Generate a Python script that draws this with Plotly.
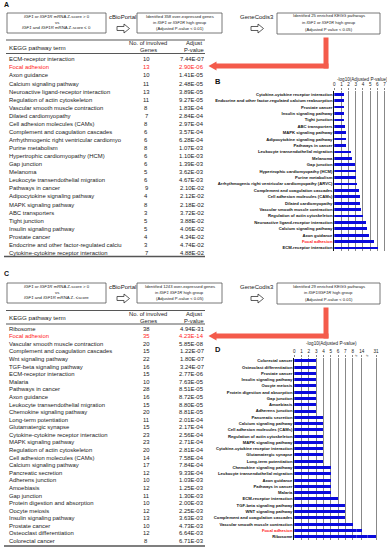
import plotly.graph_objects as go

W, H = 387, 550
FONT = "Liberation Sans, Arial, sans-serif"
TXT = "#222222"
RED_TXT = "#ff1a1a"
ARROW_RED = "#f45b4b"
BLUE = "#0a0adc"

# ---------------- data: panel A table ----------------
a_terms = ["ECM-receptor interaction", "Focal adhesion", "Axon guidance", "Calcium signaling pathway",
           "Neuroactive ligand-receptor interaction", "Regulation of actin cytoskeleton",
           "Vascular smooth muscle contraction", "Dilated cardiomyopathy", "Cell adhesion molecules (CAMs)",
           "Complement and coagulation cascades", "Arrhythmogenic right ventricular cardiomyo",
           "Purine metabolism", "Hypertrophic cardiomyopathy (HCM)", "Gap junction", "Melanoma",
           "Leukocyte transendothelial migration", "Pathways in cancer", "Adipocytokine signaling pathway",
           "MAPK signaling pathway", "ABC transporters", "Tight junction", "Insulin signaling pathway",
           "Prostate cancer", "Endocrine and other factor-regulated calciu",
           "Cytokine-cytokine receptor interaction"]
a_genes = [10, 13, 10, 11, 13, 11, 8, 7, 8, 6, 6, 8, 6, 6, 5, 6, 9, 4, 8, 3, 5, 5, 4, 3, 7]
a_pvals = ["7.44E-07", "2.90E-06", "1.41E-05", "2.48E-05", "3.89E-05", "9.27E-05", "1.83E-04",
           "2.84E-04", "2.97E-04", "3.57E-04", "6.28E-04", "1.07E-03", "1.10E-03", "1.39E-03",
           "3.62E-03", "4.67E-03", "2.10E-02", "2.12E-02", "2.18E-02", "3.72E-02", "3.88E-02",
           "4.06E-02", "4.34E-02", "4.74E-02", "4.88E-02"]

# ---------------- data: panel B chart (bottom to top) ----------------
b_terms = ["ECM-receptor interaction", "Focal adhesion", "Axon guidance", "Calcium signaling pathway",
           "Neuroactive ligand-receptor interaction", "Regulation of actin cytoskeleton",
           "Vascular smooth muscle contraction", "Dilated cardiomyopathy", "Cell adhesion molecules (CAMs)",
           "Complement and coagulation cascades",
           "Arrhythmogenic right ventricular cardiomyopathy (ARVC)", "Purine metabolism",
           "Hypertrophic cardiomyopathy (HCM)", "Gap junction", "Melanoma",
           "Leukocyte transendothelial migration", "Pathways in cancer", "Adipocytokine signaling pathway",
           "MAPK signaling pathway", "ABC transporters", "Tight junction", "Insulin signaling pathway",
           "Prostate cancer", "Endocrine and other factor-regulated calcium reabsorption",
           "Cytokine-cytokine receptor interaction"]
b_values = [6.13, 5.54, 4.85, 4.61, 4.41, 4.03, 3.74, 3.55, 3.53, 3.45, 3.20, 2.97, 2.96, 2.86,
            2.44, 2.33, 1.68, 1.67, 1.66, 1.43, 1.41, 1.39, 1.36, 1.32, 1.31]
b_ticks = [0, 1, 2, 3, 4, 5, 6, 7]

# ---------------- data: panel C table ----------------
c_terms = ["Ribosome", "Focal adhesion", "Vascular smooth muscle contraction",
           "Complement and coagulation cascades", "Wnt signaling pathway", "TGF-beta signaling pathway",
           "ECM-receptor interaction", "Malaria", "Pathways in cancer", "Axon guidance",
           "Leukocyte transendothelial migration", "Chemokine signaling pathway", "Long-term potentiation",
           "Glutamatergic synapse", "Cytokine-cytokine receptor interaction", "MAPK signaling pathway",
           "Regulation of actin cytoskeleton", "Cell adhesion molecules (CAMs)", "Calcium signaling pathway",
           "Pancreatic secretion", "Adherens junction", "Amoebiasis", "Gap junction",
           "Protein digestion and absorption", "Oocyte meiosis", "Insulin signaling pathway",
           "Prostate cancer", "Osteoclast differentiation", "Colorectal cancer"]
c_genes = [38, 35, 20, 15, 22, 16, 15, 10, 28, 16, 15, 20, 11, 15, 23, 23, 20, 14, 17, 12, 10, 12,
           11, 10, 12, 13, 10, 12, 8]
c_pvals = ["4.94E-31", "4.23E-14", "5.85E-08", "1.22E-07", "1.80E-07", "3.24E-07", "2.77E-06",
           "7.63E-05", "8.51E-05", "8.72E-05", "8.80E-05", "8.81E-05", "2.01E-04", "2.17E-04",
           "2.56E-04", "2.71E-04", "2.81E-04", "7.58E-04", "7.84E-04", "9.33E-04", "1.03E-03",
           "1.25E-03", "1.30E-03", "2.00E-03", "2.25E-03", "3.63E-03", "4.73E-03", "6.64E-03",
           "6.71E-03"]

# ---------------- data: panel D chart (bottom to top) ----------------
d_terms = ["Ribosome", "Focal adhesion", "Vascular smooth muscle contraction",
           "Complement and coagulation cascades", "WNT signaling pathway", "TGF-beta signaling pathway",
           "ECM-receptor interaction", "Malaria", "Pathways in cancer", "Axon guidance",
           "Leukocyte transendothelial migration", "Chemokine signaling pathway", "Long-term potentiation",
           "Glutamatergic synapse", "Cytokine-cytokine receptor interaction", "MAPK signaling pathway",
           "Regulation of actin cytoskeleton", "Cell adhesion molecules (CAMs)", "Calcium signaling pathway",
           "Pancreatic secretion", "Adherens junction", "Amoebiasis", "Gap junction",
           "Protein digestion and absorption", "Oocyte meiosis", "Insulin signaling pathway",
           "Prostate cancer", "Osteoclast differentiation", "Colorectal cancer"]
d_values = [31, 14, 8, 7, 7, 7, 6, 5, 5, 5, 5, 5, 4, 4, 4, 4, 4, 4, 4, 4, 3, 3, 3, 3, 3, 3, 3, 3, 3]
d_ticks_low = [0, 1, 2, 3, 4, 5, 6, 7, 8]
d_ticks_mid = [14]
d_ticks_high = [31]

HIGHLIGHT = "Focal adhesion"

# ---------------- helpers ----------------
def X(px):
    return px / W


def Y(py):
    return 1 - py / H


annotations = []
shapes = []


def txt(px, py, s, size, color=TXT, xanchor="left", yanchor="middle"):
    annotations.append(dict(x=X(px), y=Y(py), xref="paper", yref="paper", text=s, showarrow=False,
                            xanchor=xanchor, yanchor=yanchor, borderpad=0,
                            font=dict(size=size, color=color, family=FONT)))


def hline(x0, x1, y, width=0.8, color="#444444"):
    shapes.append(dict(type="line", xref="paper", yref="paper", x0=X(x0), x1=X(x1), y0=Y(y), y1=Y(y),
                       line=dict(color=color, width=width)))


def box(x0, y0, x1, y1):
    shapes.append(dict(type="rect", xref="paper", yref="paper", x0=X(x0), x1=X(x1), y0=Y(y1), y1=Y(y0),
                       line=dict(color="#555555", width=0.8), fillcolor="white"))


def hollow_arrow(x0, yc):
    pts = [(x0, yc - 2), (x0 + 7, yc - 2), (x0 + 7, yc - 4.5), (x0 + 12.5, yc), (x0 + 7, yc + 4.5),
           (x0 + 7, yc + 2), (x0, yc + 2)]
    path = "M " + " L ".join(f"{X(a):.5f},{Y(b):.5f}" for a, b in pts) + " Z"
    shapes.append(dict(type="path", xref="paper", yref="paper", path=path,
                       line=dict(color="#333333", width=0.8), fillcolor="white"))


def red_arrow(xv0, xv1, ytop, yh0, yh1, xtip):
    shapes.append(dict(type="rect", xref="paper", yref="paper", x0=X(xv0), x1=X(xv1), y0=Y(yh1), y1=Y(ytop),
                       line=dict(width=0), fillcolor=ARROW_RED))
    shapes.append(dict(type="rect", xref="paper", yref="paper", x0=X(xtip + 7), x1=X(xv1), y0=Y(yh1), y1=Y(yh0),
                       line=dict(width=0), fillcolor=ARROW_RED))
    yc = (yh0 + yh1) / 2
    pts = [(xtip, yc), (xtip + 8, yc - 4.5), (xtip + 8, yc + 4.5)]
    path = "M " + " L ".join(f"{X(a):.5f},{Y(b):.5f}" for a, b in pts) + " Z"
    shapes.append(dict(type="path", xref="paper", yref="paper", path=path, line=dict(width=0),
                       fillcolor=ARROW_RED))


def flow(y_off, box1, box2, box3):
    box(7, 13 + y_off, 106, 33 + y_off)
    box(137, 13 + y_off, 222, 33 + y_off)
    box(277, 13 + y_off, 380, 34 + y_off)
    for i, line in enumerate(box1):
        txt(56.5, 16.5 + y_off + 5.6 * i, line, 4.3, xanchor="center")
    for i, line in enumerate(box2):
        txt(179.5, 16.5 + y_off + 6.2 * i, line, 4.2, xanchor="center")
    for i, line in enumerate(box3):
        txt(328.5, 16 + y_off + 6.6 * i, line, 4.2, xanchor="center")
    txt(122, 17 + y_off, "cBioPortal", 6, xanchor="center")
    txt(256.5, 17 + y_off, "GeneCodis3", 6, xanchor="center")
    hollow_arrow(117, 28.5 + y_off)
    hollow_arrow(251, 28.5 + y_off)


def table(y_top, y0, step, terms, genes, pvals, y_bottom):
    hline(6, 205, y_top, 0.9)
    txt(8, y_top + 7, "KEGG pathway term", 6.2)
    txt(148, y_top + 3.3, "No. of involved", 5.8, xanchor="center")
    txt(148, y_top + 10, "Genes", 5.8, xanchor="center")
    txt(194, y_top + 3.3, "Adjust", 5.8, xanchor="center")
    txt(194, y_top + 10, "P-value", 5.8, xanchor="center")
    hline(6, 205, y_top + 13.5, 0.9)
    for i, (t, g, p) in enumerate(zip(terms, genes, pvals)):
        col = RED_TXT if t == HIGHLIGHT else TXT
        yy = y0 + step * i
        txt(8, yy, t, 5.9, col)
        txt(146, yy, str(g), 5.9, col, xanchor="center")
        txt(205, yy, p, 5.9, col, xanchor="right")
    hline(4, 205, y_bottom, 1.4, "#555555")


# ---------------- panel A / C flows and tables ----------------
txt(3, 5, "<b>A</b>", 7, "#111111")
flow(0,
     ["<i>IGF1</i> or <i>IGF1R</i> mRNA Z-score > 0", "vs",
      "<i>IGF1</i> and <i>IGF1R</i> mRNA Z-score ≤ 0"],
     ["Identified 358 over-expressed genes", "in <i>IGF1</i> or <i>IGF1R</i> high group",
      "(Adjusted P-value < 0.01)"],
     ["Identified 25 enriched KEGG pathways", "in <i>IGF1</i> or <i>IGF1R</i> high group",
      "(Adjusted P value < 0.05)"])
table(40, 59.3, 8.07, a_terms, a_genes, a_pvals, 256.5)
red_arrow(323.5, 328.5, 37.5, 63.5, 68.5, 208.5)

txt(3, 273, "<b>C</b>", 7, "#111111")
flow(270,
     ["<i>IGF1</i> or <i>IGF1R</i> mRNA Z-score > 0", "vs",
      "<i>IGF1</i> and <i>IGF1R</i> mRNA Z- ≤score"],
     ["Identified 1243 over-expressed genes", "in <i>IGF1 IGF1R</i> high group",
      "(Adjusted P-value < 0.05)"],
     ["Identified 29 enriched KEGG pathways", "in <i>IGF1</i>/<i>IGF1R</i> high group",
      "(Adjusted P-value < 0.01)"])
table(310.5, 328.7, 7.585, c_terms, c_genes, c_pvals, 546)
red_arrow(323.5, 328.5, 307.5, 333.5, 338.5, 208.5)

# ---------------- panel B / D charts ----------------
txt(214, 82, "<b>B</b>", 7.5, "#111111")
txt(362, 79, "-log10(Adjusted P-value)", 4.6, xanchor="center")
txt(214, 349, "<b>D</b>", 7.5, "#111111")
txt(331, 343.5, "-log10(Adjusted P-value)", 4.6, xanchor="center")
txt(356.5, 355, "≈", 4.5, "#333333", xanchor="center")
txt(367.5, 355, "≈", 4.5, "#333333", xanchor="center")


def ticklabels(terms):
    out = []
    for t in terms:
        if t == HIGHLIGHT:
            out.append(f'<b><span style="color:{RED_TXT}">{t}</span></b>')
        else:
            out.append(f"<b>{t}</b>")
    return out


fig = go.Figure()
fig.add_trace(go.Bar(x=b_values, y=b_terms, orientation="h", xaxis="x", yaxis="y",
                     marker=dict(color=BLUE, line=dict(width=0)), width=0.42, hoverinfo="skip"))
for ax in ["x2", "x3", "x4"]:
    fig.add_trace(go.Bar(x=d_values, y=d_terms, orientation="h", xaxis=ax, yaxis="y2",
                         marker=dict(color=BLUE, line=dict(width=0)), width=0.48, hoverinfo="skip"))

grid = dict(showgrid=True, gridcolor="#555555", gridwidth=0.7, zeroline=False, showline=False,
            side="top", ticks="outside", ticklen=2, tickcolor="#555555", tickwidth=0.7,
            tickfont=dict(size=4.6, family=FONT, color=TXT), fixedrange=True)
ycat = dict(type="category", showgrid=False, zeroline=False, showline=True, linecolor="#111111",
            linewidth=1, ticks="", tickfont=dict(size=4.2, family=FONT, color="#111111"), fixedrange=True)

b_px = (384.5 - 334.3) / 7.0
d_px = 7.3
layout = dict(
    width=W, height=H, autosize=False, margin=dict(l=0, r=0, t=0, b=0),
    paper_bgcolor="white", plot_bgcolor="white", showlegend=False, bargap=0,
    xaxis=dict(domain=[X(334.3), X(386)], range=[0, (386 - 334.3) / b_px], anchor="y",
               tickvals=b_ticks, **grid),
    yaxis=dict(domain=[Y(251.2), Y(91.1)], anchor="x", range=[-0.5, len(b_terms) - 0.5],
               tickvals=b_terms, ticktext=ticklabels(b_terms), **ycat),
    xaxis2=dict(domain=[X(294.3), X(356.5)], range=[0, (356.5 - 294.3) / d_px], anchor="y2",
                tickvals=d_ticks_low, **grid),
    xaxis3=dict(domain=[X(356.5), X(367.5)], range=[14 - (361.7 - 356.5) / d_px, 14 + (367.5 - 361.7) / d_px],
                anchor="y2", tickvals=d_ticks_mid, **grid),
    xaxis4=dict(domain=[X(367.5), X(382)], range=[31 - (376 - 367.5) / d_px, 31 + (382 - 376) / d_px],
                anchor="y2", tickvals=d_ticks_high, **grid),
    yaxis2=dict(domain=[Y(539.8), Y(357.6)], anchor="x2", range=[-0.5, len(d_terms) - 0.5],
                tickvals=d_terms, ticktext=ticklabels(d_terms), **ycat),
    annotations=annotations,
    shapes=shapes,
)
fig.update_layout(**layout)
fig.write_html("out.html", config={"displayModeBar": False, "staticPlot": True},
               post_script="document.body.style.margin='0px'; document.body.style.overflow='hidden';")
